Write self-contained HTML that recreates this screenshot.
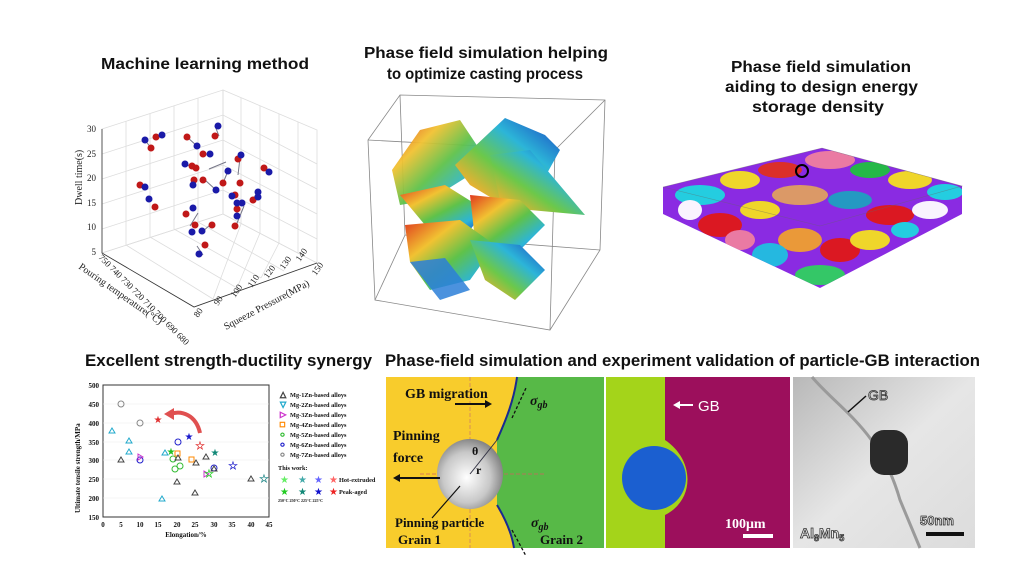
<!DOCTYPE html>
<html><head><meta charset="utf-8"><style>
body{margin:0;background:#fff;width:1024px;height:587px;overflow:hidden}
svg{display:block}
.t{font-family:"Liberation Sans",sans-serif;font-weight:bold;fill:#111}
.s{font-family:"Liberation Serif",serif;fill:#222}
.b{font-family:"Liberation Serif",serif;font-weight:bold;fill:#111}
</style></head><body>
<svg width="1024" height="587" viewBox="0 0 1024 587">
<defs>
<linearGradient id="dg" x1="0" y1="0" x2="1" y2="1">
<stop offset="0" stop-color="#e03a1e"/><stop offset=".3" stop-color="#f1c232"/><stop offset=".55" stop-color="#5fc24a"/><stop offset=".8" stop-color="#2cb5d8"/><stop offset="1" stop-color="#1a3fc0"/></linearGradient>
<linearGradient id="dg2" x1="1" y1="0" x2="0" y2="1">
<stop offset="0" stop-color="#1a3fc0"/><stop offset=".35" stop-color="#2cb5d8"/><stop offset=".6" stop-color="#6cc84a"/><stop offset=".85" stop-color="#f0b030"/><stop offset="1" stop-color="#d8381e"/></linearGradient>
<radialGradient id="sp" cx=".45" cy=".55" r=".6"><stop offset="0" stop-color="#fff"/><stop offset=".6" stop-color="#c8c8c8"/><stop offset="1" stop-color="#777"/></radialGradient>
<linearGradient id="tem" x1="0" y1="0" x2="1" y2="1"><stop offset="0" stop-color="#b8b8b8"/><stop offset=".5" stop-color="#e6e6e6"/><stop offset="1" stop-color="#dcdcdc"/></linearGradient>
<clipPath id="slab"><polygon points="663,187 822,148 962,186 962,214 820,288 663,214"/></clipPath>
</defs>

<!-- Titles -->
<text class="t" x="101" y="69" font-size="16" textLength="208" lengthAdjust="spacingAndGlyphs">Machine learning method</text>
<text class="t" x="364" y="58" font-size="16" textLength="244" lengthAdjust="spacingAndGlyphs">Phase field simulation helping</text>
<text class="t" x="387" y="79" font-size="16" textLength="196" lengthAdjust="spacingAndGlyphs">to  optimize casting process</text>
<text class="t" x="731" y="72" font-size="16" textLength="180" lengthAdjust="spacingAndGlyphs">Phase field simulation</text>
<text class="t" x="725" y="92" font-size="16" textLength="193" lengthAdjust="spacingAndGlyphs">aiding to design energy</text>
<text class="t" x="752" y="112" font-size="16" textLength="132" lengthAdjust="spacingAndGlyphs">storage density</text>
<text class="t" x="85" y="366" font-size="17" textLength="287" lengthAdjust="spacingAndGlyphs">Excellent strength-ductility synergy</text>
<text class="t" x="385" y="366" font-size="17" textLength="595" lengthAdjust="spacingAndGlyphs">Phase-field simulation and experiment validation of particle-GB interaction</text>

<!-- 3D scatter -->
<g stroke="#ddd" stroke-width="0.8" fill="none">
<polygon points="102,129 223,90 223,214 102,253"/>
<polygon points="223,90 317,130 317,263 223,214"/>
<polygon points="102,253 223,214 317,263 194,307"/>
<path d="M102,229 223,190 317,239 M102,204 223,165 317,214 M102,179 223,140 317,189 M102,154 223,115 317,164"/>
<path d="M126,121 126,245 M150,114 150,237 M174,106 174,229 M198,98 198,222 M241,98 241,224 M260,106 260,233 M279,114 279,243 M298,122 298,253"/>
<path d="M126,245 213,299 M150,237 237,288 M174,229 261,278 M198,222 284,271 M213,299 241,224 M237,288 260,233 M261,278 279,243"/>
</g>
<g stroke="#333" stroke-width="0.8" fill="none"><path d="M102,129 102,253 194,307 317,263"/></g>
<g class="s" font-size="9">
<text x="96" y="132" text-anchor="end">30</text><text x="96" y="157" text-anchor="end">25</text><text x="96" y="181" text-anchor="end">20</text><text x="96" y="206" text-anchor="end">15</text><text x="96" y="230" text-anchor="end">10</text><text x="96" y="255" text-anchor="end">5</text>
<text transform="translate(82,205) rotate(-90)" font-size="10">Dwell time(s)</text>
<text transform="translate(98,258) rotate(45)" font-size="9">750 740 730 720 710 700 690 680</text>
<text transform="translate(78,268) rotate(35)" font-size="10">Pouring temperature(°C)</text>
<text transform="translate(198,318) rotate(-55)" font-size="9">80</text>
<text transform="translate(218,306) rotate(-55)" font-size="9">90</text>
<text transform="translate(235,298) rotate(-55)" font-size="9">100</text>
<text transform="translate(252,288) rotate(-55)" font-size="9">110</text>
<text transform="translate(268,279) rotate(-55)" font-size="9">120</text>
<text transform="translate(284,270) rotate(-55)" font-size="9">130</text>
<text transform="translate(300,262) rotate(-55)" font-size="9">140</text>
<text transform="translate(316,276) rotate(-55)" font-size="9">150</text>
<text transform="translate(226,330) rotate(-28)" font-size="10">Squeeze Pressure(MPa)</text>
</g>
<g stroke="#778" stroke-width="1">
<path d="M145,140 151,148 M156,137 162,135 M187,137 197,146 M186,166 193,164 M215,126 219,136 M209,169 226,162 M205,180 216,190 M223,183 228,171 M240,158 238,175 M264,168 268,172 M253,200 257,192 M244,206 235,228 M198,213 190,226 M202,232 210,225 M197,246 203,255"/>
</g>
<g fill="#c01818">
<circle cx="151" cy="148" r="3.5"/><circle cx="156" cy="137" r="3.5"/><circle cx="187" cy="137" r="3.5"/><circle cx="203" cy="154" r="3.5"/><circle cx="192" cy="166" r="3.5"/><circle cx="196" cy="168" r="3.5"/><circle cx="194" cy="180" r="3.5"/><circle cx="203" cy="180" r="3.5"/><circle cx="215" cy="136" r="3.5"/><circle cx="238" cy="159" r="3.5"/><circle cx="223" cy="183" r="3.5"/><circle cx="240" cy="183" r="3.5"/><circle cx="264" cy="168" r="3.5"/><circle cx="253" cy="200" r="3.5"/><circle cx="140" cy="185" r="3.5"/><circle cx="155" cy="207" r="3.5"/><circle cx="186" cy="214" r="3.5"/><circle cx="195" cy="225" r="3.5"/><circle cx="212" cy="225" r="3.5"/><circle cx="235" cy="226" r="3.5"/><circle cx="205" cy="245" r="3.5"/><circle cx="235" cy="195" r="3.5"/><circle cx="237" cy="209" r="3.5"/></g>
<g fill="#1a1aa8">
<circle cx="145" cy="140" r="3.5"/><circle cx="162" cy="135" r="3.5"/><circle cx="197" cy="146" r="3.5"/><circle cx="210" cy="154" r="3.5"/><circle cx="185" cy="164" r="3.5"/><circle cx="193" cy="185" r="3.5"/><circle cx="218" cy="126" r="3.5"/><circle cx="241" cy="155" r="3.5"/><circle cx="228" cy="171" r="3.5"/><circle cx="216" cy="190" r="3.5"/><circle cx="269" cy="172" r="3.5"/><circle cx="258" cy="192" r="3.5"/><circle cx="145" cy="187" r="3.5"/><circle cx="149" cy="199" r="3.5"/><circle cx="193" cy="208" r="3.5"/><circle cx="192" cy="232" r="3.5"/><circle cx="202" cy="231" r="3.5"/><circle cx="199" cy="254" r="3.5"/><circle cx="232" cy="196" r="3.5"/><circle cx="237" cy="203" r="3.5"/><circle cx="242" cy="203" r="3.5"/><circle cx="237" cy="216" r="3.5"/><circle cx="258" cy="197" r="3.5"/></g>

<!-- Middle dendrites -->
<g stroke="#888" stroke-width="0.8" fill="none">
<polygon points="368,140 400,95 605,100 600,250 550,330 375,300"/>
<path d="M368,140 555,150 550,330 M555,150 605,100 M400,95 405,235 375,300 M405,235 600,250"/>
</g>
<polygon points="392,170 420,130 460,120 480,150 470,175 430,200 400,205" fill="url(#dg)" opacity=".95"/>
<polygon points="400,195 445,185 485,210 470,230 425,225" fill="url(#dg)"/>
<polygon points="455,165 505,118 545,135 560,150 535,195 495,200 470,185" fill="url(#dg2)"/>
<polygon points="490,155 530,150 585,215 530,210 500,200" fill="url(#dg2)"/>
<polygon points="470,195 520,200 545,225 520,250 475,240" fill="url(#dg)"/>
<polygon points="405,225 460,220 495,245 470,280 430,290 410,262" fill="url(#dg)"/>
<polygon points="470,240 520,245 545,270 515,300 485,280" fill="url(#dg2)"/>
<polygon points="410,262 445,258 470,290 440,300" fill="#2c7fd8" opacity=".85"/>

<!-- Right slab -->
<g clip-path="url(#slab)">
<rect x="660" y="140" width="310" height="160" fill="#8a2be2"/>
<g opacity=".95">
<ellipse cx="700" cy="195" rx="25" ry="10" fill="#1fd6e0"/><ellipse cx="740" cy="180" rx="20" ry="9" fill="#f5e020"/><ellipse cx="780" cy="170" rx="22" ry="8" fill="#e03020"/>
<ellipse cx="830" cy="160" rx="25" ry="9" fill="#f07fa0"/><ellipse cx="870" cy="170" rx="20" ry="8" fill="#20c040"/><ellipse cx="910" cy="180" rx="22" ry="9" fill="#f5e020"/>
<ellipse cx="945" cy="192" rx="18" ry="8" fill="#1fd6e0"/><ellipse cx="800" cy="195" rx="28" ry="10" fill="#e0a060"/><ellipse cx="850" cy="200" rx="22" ry="9" fill="#1fa0c0"/>
<ellipse cx="760" cy="210" rx="20" ry="9" fill="#f5e020"/><ellipse cx="720" cy="225" rx="22" ry="12" fill="#e01818"/><ellipse cx="690" cy="210" rx="12" ry="10" fill="#fff"/>
<ellipse cx="890" cy="215" rx="24" ry="10" fill="#e01818"/><ellipse cx="930" cy="210" rx="18" ry="9" fill="#fff"/><ellipse cx="800" cy="240" rx="22" ry="12" fill="#f0a030"/>
<ellipse cx="840" cy="250" rx="20" ry="12" fill="#e01818"/><ellipse cx="770" cy="255" rx="18" ry="12" fill="#20c0e0"/><ellipse cx="870" cy="240" rx="20" ry="10" fill="#f5e020"/>
<ellipse cx="820" cy="275" rx="25" ry="10" fill="#30d060"/><ellipse cx="740" cy="240" rx="15" ry="10" fill="#f07fa0"/><ellipse cx="905" cy="230" rx="14" ry="8" fill="#1fd6e0"/>
</g>
</g>
<polygon points="663,187 822,148 962,186 820,226" fill="none" stroke="#666" stroke-width=".6" opacity=".5"/>
<circle cx="802" cy="171" r="6" fill="none" stroke="#000" stroke-width="2"/>

<!-- Strength chart -->
<rect x="103" y="385" width="166" height="132" fill="none" stroke="#333" stroke-width="1"/>
<g stroke="#eee" stroke-width=".6"><path d="M103,404H269M103,423H269M103,442H269M103,460H269M103,479H269M103,498H269"/></g>
<g class="b" font-size="7">
<text x="99" y="388" text-anchor="end">500</text><text x="99" y="407" text-anchor="end">450</text><text x="99" y="426" text-anchor="end">400</text><text x="99" y="445" text-anchor="end">350</text><text x="99" y="463" text-anchor="end">300</text><text x="99" y="482" text-anchor="end">250</text><text x="99" y="501" text-anchor="end">200</text><text x="99" y="520" text-anchor="end">150</text>
<text x="103" y="527" text-anchor="middle">0</text><text x="121" y="527" text-anchor="middle">5</text><text x="140" y="527" text-anchor="middle">10</text><text x="158" y="527" text-anchor="middle">15</text><text x="177" y="527" text-anchor="middle">20</text><text x="195" y="527" text-anchor="middle">25</text><text x="214" y="527" text-anchor="middle">30</text><text x="232" y="527" text-anchor="middle">35</text><text x="251" y="527" text-anchor="middle">40</text><text x="269" y="527" text-anchor="middle">45</text>
<text x="186" y="537" text-anchor="middle">Elongation/%</text>
<text transform="translate(80,513) rotate(-90)" font-size="7">Ultimate tensile strength/MPa</text>
</g>
<g fill="none" stroke-width="1">
<circle cx="121" cy="404" r="3" stroke="#888"/><circle cx="140" cy="423" r="3" stroke="#888"/>
<circle cx="140" cy="460" r="3" stroke="#2222cc"/><circle cx="178" cy="442" r="3" stroke="#2222cc"/><circle cx="214" cy="468" r="3" stroke="#2222cc"/>
<circle cx="175" cy="469" r="3" stroke="#3b3"/><circle cx="180" cy="466" r="3" stroke="#3b3"/><circle cx="173" cy="459" r="3" stroke="#3b3"/>
<rect x="175" y="451" width="5" height="5" stroke="#f80"/><rect x="189" y="457" width="5" height="5" stroke="#f80"/>
<path d="M112,428l3,5h-6z M129,438l3,5h-6z M129,449l3,5h-6z M165,450l3,5h-6z M162,496l3,5h-6z" stroke="#2ac"/>
<path d="M121,457l3,5h-6z M178,455l3,5h-6z M196,460l3,5h-6z M206,454l3,5h-6z M214,466l3,5h-6z M195,490l3,5h-6z M251,476l3,5h-6z M177,479l3,5h-6z" stroke="#444"/>
<path d="M138,454l5,3-5,3z M204,471l5,3-5,3z" stroke="#c3c"/>
</g>
<g font-size="10" text-anchor="middle">
<text x="158" y="423" fill="#e03030">★</text><text x="189" y="440" fill="#1a1acc">★</text><text x="171" y="455" fill="#20c020">★</text><text x="215" y="456" fill="#187">★</text>
<text x="200" y="449" fill="none" stroke="#e03030" stroke-width=".7">★</text><text x="233" y="469" fill="none" stroke="#22c" stroke-width=".7">★</text><text x="209" y="477" fill="none" stroke="#2c2" stroke-width=".7">★</text><text x="264" y="482" fill="none" stroke="#288" stroke-width=".7">★</text>
</g>
<path d="M200,433 C196,415 182,410 170,414" stroke="#e05050" stroke-width="4" fill="none"/><path d="M164,414l10,-6 0,12z" fill="#e05050"/>
<g class="b" font-size="6.3">
<text x="290" y="397">Mg-1Zn-based alloys</text><text x="290" y="407">Mg-2Zn-based alloys</text><text x="290" y="417">Mg-3Zn-based alloys</text><text x="290" y="427">Mg-4Zn-based alloys</text><text x="290" y="437">Mg-5Zn-based alloys</text><text x="290" y="447">Mg-6Zn-based alloys</text><text x="290" y="457">Mg-7Zn-based alloys</text>
<text x="278" y="470">This work:</text><text x="339" y="482">Hot-extruded</text><text x="339" y="494">Peak-aged</text>
<text x="278" y="502" font-size="4">250°C   250°C   225°C   225°C</text>
</g>
<g font-size="8" fill="none" stroke-width=".8"><text x="280" y="397" stroke="#444">△</text><text x="280" y="407" stroke="#2ac">▽</text><text x="280" y="417" stroke="#c3c">▷</text><text x="280" y="427" stroke="#f80">□</text><text x="280" y="437" stroke="#3b3">○</text><text x="280" y="447" stroke="#22c">○</text><text x="280" y="457" stroke="#888">○</text></g>
<g font-size="10"><text x="280" y="483" fill="#6e6">★</text><text x="298" y="483" fill="#4aa">★</text><text x="314" y="483" fill="#66f">★</text><text x="329" y="483" fill="#f66">★</text>
<text x="280" y="495" fill="#2c2">★</text><text x="298" y="495" fill="#187">★</text><text x="314" y="495" fill="#11c">★</text><text x="329" y="495" fill="#e22">★</text></g>

<!-- Pinning panel -->
<rect x="386" y="377" width="218" height="171" fill="#57b947"/>
<path d="M386,377H517C514,400 506,420 497,440 L497,505 C506,520 512,535 514,548H386Z" fill="#f8cc2c"/>
<path d="M517,377C514,400 506,420 497,440 M497,505C506,520 512,535 514,548" stroke="#1a2a90" stroke-width="2" fill="none"/>
<line x1="470" y1="377" x2="470" y2="548" stroke="#d08060" stroke-dasharray="4,2" stroke-width=".8"/>
<line x1="420" y1="474" x2="545" y2="474" stroke="#d06060" stroke-dasharray="4,2" stroke-width=".8"/>
<ellipse cx="470" cy="474" rx="33" ry="35" fill="url(#sp)"/>
<line x1="470" y1="474" x2="497" y2="440" stroke="#334" stroke-width="1"/>
<g class="b">
<text x="405" y="398" font-size="14">GB migration</text><text x="393" y="440" font-size="14">Pinning</text><text x="393" y="462" font-size="14">force</text>
<text x="472" y="455" font-size="12">θ</text><text x="476" y="474" font-size="12">r</text>
<text x="395" y="527" font-size="13">Pinning particle</text><text x="398" y="544" font-size="13">Grain 1</text><text x="540" y="544" font-size="13">Grain 2</text>
<text x="530" y="405" font-size="14" font-style="italic">σ<tspan font-size="10" dy="3">gb</tspan></text>
<text x="531" y="527" font-size="14" font-style="italic">σ<tspan font-size="10" dy="3">gb</tspan></text>
</g>
<path d="M455,404H488" stroke="#111" stroke-width="2"/><path d="M492,404l-7,-4v8z" fill="#111"/>
<path d="M397,478H440" stroke="#111" stroke-width="2"/><path d="M393,478l7,-4v8z" fill="#111"/>
<path d="M432,518L460,486" stroke="#111" stroke-width="1.2"/>
<path d="M512,418L526,388 M512,530L526,556" stroke="#111" stroke-width="1.3" stroke-dasharray="3,2"/>

<!-- Middle GB panel -->
<rect x="606" y="377" width="184" height="171" fill="#9c0f5c"/>
<path d="M606,377H665V440C695,460 695,500 665,515V548H606Z" fill="#a4d41a"/>
<circle cx="654" cy="478" r="32" fill="#1b5fd0"/>
<text x="698" y="411" font-family="Liberation Sans,sans-serif" font-size="15" fill="#fff">GB</text>
<path d="M677,405H693" stroke="#fff" stroke-width="2"/><path d="M673,405l7,-4v8z" fill="#fff"/>
<text x="725" y="528" class="b" font-size="14" style="fill:#fff">100μm</text>
<rect x="743" y="534" width="30" height="4" fill="#fff"/>

<!-- TEM panel -->
<rect x="793" y="377" width="182" height="171" fill="url(#tem)"/>
<path d="M812,377 C840,410 880,430 900,500 L920,548" stroke="#9a9a9a" stroke-width="3" fill="none"/>
<rect x="870" y="430" width="38" height="45" rx="14" fill="#2a2a2a"/>
<path d="M848,412L866,396" stroke="#111" stroke-width="1.5"/>
<text x="868" y="400" font-family="Liberation Sans,sans-serif" font-size="14" fill="#eee" stroke="#333" stroke-width=".8">GB</text>
<text x="800" y="538" font-family="Liberation Sans,sans-serif" font-weight="bold" font-size="14" fill="#eee" stroke="#333" stroke-width=".8">Al<tspan font-size="9" dy="3">8</tspan><tspan dy="-3">Mn</tspan><tspan font-size="9" dy="3">5</tspan></text>
<text x="920" y="525" font-family="Liberation Sans,sans-serif" font-weight="bold" font-size="13" fill="#eee" stroke="#333" stroke-width=".8">50nm</text>
<rect x="926" y="532" width="38" height="4" fill="#111"/>
</svg>
</body></html>
